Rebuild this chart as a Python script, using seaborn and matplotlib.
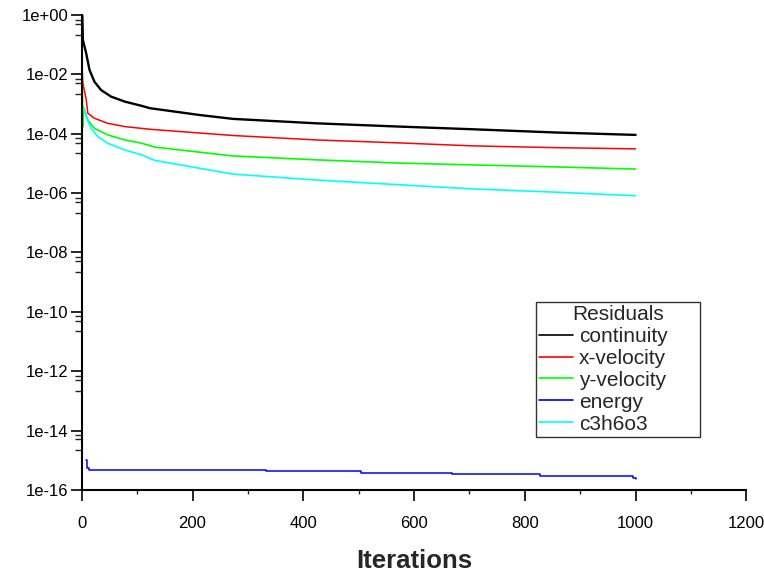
import numpy as np
import pandas as pd
import matplotlib
matplotlib.use('Agg')
import matplotlib.pyplot as plt
import seaborn as sns
from matplotlib.ticker import FixedLocator, MultipleLocator, FuncFormatter

sns.set_style('ticks')
plt.rcParams['font.family'] = ['Liberation Sans', 'DejaVu Sans']

# residual histories (iteration, log10 residual)
continuity_it = [1, 2, 8, 14, 23, 35, 53, 78, 108, 123, 213, 273, 424, 574, 706, 857, 1000]
continuity_log = [0.0, -0.84, -1.29, -1.85, -2.25, -2.53, -2.75, -2.92, -3.06, -3.14,
                  -3.37, -3.50, -3.65, -3.76, -3.85, -3.96, -4.04]

xvel_it = [1, 2, 8, 11, 23, 47, 78, 108, 123, 273, 424, 574, 706, 857, 1000]
xvel_log = [-1.92, -2.30, -2.84, -3.31, -3.48, -3.65, -3.76, -3.82, -3.85, -4.06,
            -4.21, -4.31, -4.41, -4.47, -4.51]

yvel_it = [1, 2, 3, 11, 23, 47, 78, 108, 132, 273, 424, 574, 706, 857, 1000]
yvel_log = [-2.30, -3.76, -3.09, -3.54, -3.82, -4.04, -4.21, -4.32, -4.45, -4.75,
            -4.88, -4.99, -5.05, -5.12, -5.19]

energy_it = [7, 9, 13, 332, 504, 668, 827, 995, 1000]
energy_log = [-15.00, -15.27, -15.33, -15.38, -15.43, -15.47, -15.54, -15.60, -15.63]

c3h6o3_it = [2, 8, 17, 29, 47, 78, 108, 132, 273, 424, 574, 706, 857, 1000]
c3h6o3_log = [-3.09, -3.42, -3.82, -4.10, -4.32, -4.55, -4.71, -4.90, -5.36, -5.56,
              -5.72, -5.86, -5.97, -6.09]

series = [
    ('continuity', continuity_it, continuity_log, '#000000', 1.7, 'default'),
    ('x-velocity', xvel_it, xvel_log, '#ff0000', 1.1, 'default'),
    ('y-velocity', yvel_it, yvel_log, '#00ff00', 1.2, 'default'),
    ('energy', energy_it, energy_log, '#0000ff', 1.1, 'steps-post'),
    ('c3h6o3', c3h6o3_it, c3h6o3_log, '#00ffff', 1.2, 'default'),
]

fig = plt.figure(figsize=(7.64, 5.77), dpi=100)
ax = fig.add_axes([0.107, 0.151, 0.870, 0.823])

for name, it, lg, color, lw, ds in series:
    df = pd.DataFrame({'Iterations': it, 'Residual': np.power(10.0, lg)})
    sns.lineplot(data=df, x='Iterations', y='Residual', ax=ax, color=color,
                 linewidth=lw, drawstyle=ds, label=name, estimator=None, sort=False)

ax.set_yscale('log')
ax.set_xlim(0, 1200)
ax.set_ylim(1e-16, 1)

ax.xaxis.set_major_locator(MultipleLocator(200))
ax.xaxis.set_minor_locator(MultipleLocator(100))
majors = [10.0 ** -k for k in range(0, 17, 2)]
ax.yaxis.set_major_locator(FixedLocator(majors))
minors = [m * f for m in majors[:-1] for f in (0.7, 0.5, 0.22)]
ax.yaxis.set_minor_locator(FixedLocator(minors))
ax.yaxis.set_major_formatter(FuncFormatter(lambda v, p: '1e%+03d' % int(round(np.log10(v)))))

ax.tick_params(axis='both', which='major', length=8, width=1.2, labelsize=12, colors='black')
ax.tick_params(axis='y', which='minor', length=5, width=1.0)
ax.tick_params(axis='x', which='minor', length=3, width=1.0)
ax.tick_params(axis='y', which='major', pad=1.5)
ax.tick_params(axis='x', which='major', pad=11)
for s in ('top', 'right'):
    ax.spines[s].set_visible(False)
for s in ('left', 'bottom'):
    ax.spines[s].set_linewidth(1.5)
    ax.spines[s].set_color('black')

ax.set_xlabel('Iterations', fontsize=18.5, fontweight='bold', labelpad=13)
ax.set_ylabel('')

leg = ax.legend(title='Residuals', loc='lower left',
                bbox_to_anchor=(0.683, 0.112, 0.247, 0.28), mode='expand',
                fontsize=15, title_fontsize=15, frameon=True, fancybox=False,
                handlelength=1.63, handletextpad=0.3, borderpad=0.15, labelspacing=0.14,
                borderaxespad=0)
leg.get_frame().set_edgecolor('black')
leg.get_frame().set_linewidth(1.0)
for h in leg.get_lines():
    h.set_linewidth(1.2)

fig.savefig('out.png', dpi=100)
